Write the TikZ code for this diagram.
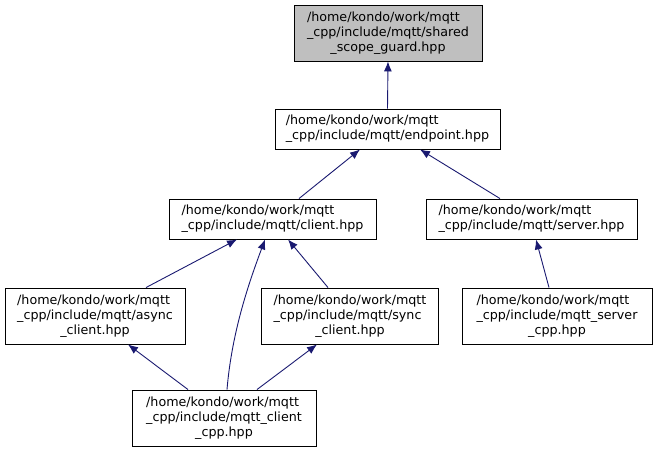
\documentclass[tikz,border=0pt]{standalone}
\usepackage{fontspec}
\setmainfont{DejaVu Sans}
\usetikzlibrary{arrows.meta,positioning,calc}
\definecolor{edgeblue}{RGB}{25,25,112}
\definecolor{headgray}{RGB}{191,191,191}
% three line label: first lines flush left, last one centred
\newcommand{\threelines}[3]{\begin{tabular}{@{}l@{}}#1\\#2\\\multicolumn{1}{@{}c@{}}{#3}\end{tabular}}

\begin{document}
\begin{tikzpicture}[x=1pt,y=-1pt,
  every node/.style={font=\fontsize{12.7}{15}\selectfont},
  file/.style={draw=black, line width=0.9pt, fill=white, inner sep=0pt, align=left},
  dep/.style={-{Latex[length=10pt,width=8pt]}, line width=0.9pt, edgeblue}]
\useasboundingbox (0,0) rectangle (655,453);
\node[file, fill=headgray, minimum width=188, minimum height=56] (guard) at (388,33) {\threelines{/home/kondo/work/mqtt}{\_cpp/include/mqtt/shared}{\_scope\_guard.hpp}};
\node[file, minimum width=225, minimum height=40] (endpoint) at (387.5,129) {/home/kondo/work/mqtt\\\_cpp/include/mqtt/endpoint.hpp};
\node[file, minimum width=207, minimum height=40] (client) at (272.5,219) {/home/kondo/work/mqtt\\\_cpp/include/mqtt/client.hpp};
\node[file, minimum width=211, minimum height=40] (server) at (531.5,219) {/home/kondo/work/mqtt\\\_cpp/include/mqtt/server.hpp};
\node[file, minimum width=180, minimum height=56] (async) at (95,316) {\threelines{/home/kondo/work/mqtt}{\_cpp/include/mqtt/async}{\_client.hpp}};
\node[file, minimum width=177, minimum height=56] (sync) at (350,316) {\threelines{/home/kondo/work/mqtt}{\_cpp/include/mqtt/sync}{\_client.hpp}};
\node[file, minimum width=190, minimum height=56] (servercpp) at (557,316) {\threelines{/home/kondo/work/mqtt}{\_cpp/include/mqtt\_server}{\_cpp.hpp}};
\node[file, minimum width=184, minimum height=56] (clientcpp) at (224,418) {\threelines{/home/kondo/work/mqtt}{\_cpp/include/mqtt\_client}{\_cpp.hpp}};
% include edges
\draw[dep] (endpoint.north) -- (guard.south);
\draw[dep] ([xshift=26.5]client.north) -- ([xshift=-27.5]endpoint.south);
\draw[dep] ([xshift=-31.5]server.north) -- ([xshift=32.5]endpoint.south);
\draw[dep] ([xshift=51]async.north) -- ([xshift=-35.5]client.south);
\draw[dep] ([xshift=3]clientcpp.north) .. controls (232,330) and (250,280) .. ([xshift=-7.5]client.south);
\draw[dep] ([xshift=-22]sync.north) -- ([xshift=15.5]client.south);
\draw[dep] ([xshift=-8]servercpp.north) -- ([xshift=4.5]server.south);
\draw[dep] ([xshift=-36]clientcpp.north) -- ([xshift=33]async.south);
\draw[dep] ([xshift=33]clientcpp.north) -- ([xshift=-33]sync.south);
\end{tikzpicture}
\end{document}
